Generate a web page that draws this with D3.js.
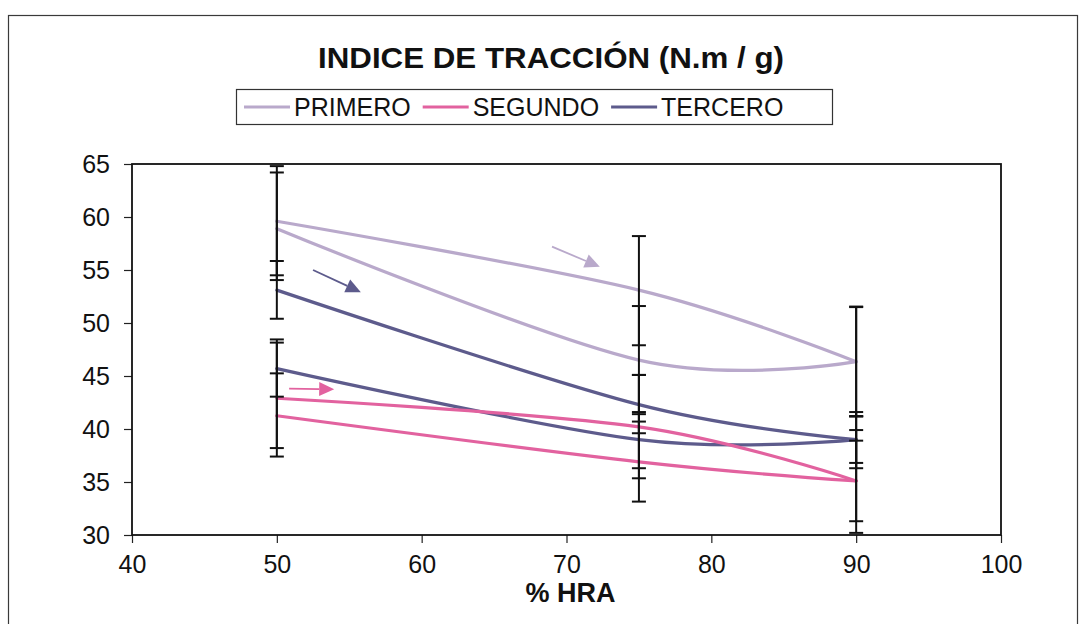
<!DOCTYPE html>
<html>
<head>
<meta charset="utf-8">
<script src="https://cdn.jsdelivr.net/npm/d3@7"></script>
<style>
  html, body { margin: 0; padding: 0; background: #fff; }
  svg { display: block; font-family: "Liberation Sans", Arial, sans-serif; }
</style>
</head>
<body>
<svg id="chart" width="1083" height="624"></svg>
<script>
// Humedad relativa ambiente (%) de cada medición
const hra = [50, 75, 90];

// Índice de tracción (N.m/g): rama superior e inferior de cada ciclo
const primeroSup = [59.6, 53.1, 46.35];
const primeroInf = [58.9, 46.5, 46.35];
const segundoSup = [42.9, 40.2, 35.1];
const segundoInf = [41.25, 36.9, 35.1];
const terceroSup = [53.1, 42.3, 39.0];
const terceroInf = [45.7, 39.0, 39.0];

// Barras de error: límite inferior y superior en cada HRA
const primeroSupLo = [54.5, 47.9, 41.2];
const primeroSupHi = [64.8, 58.2, 51.55];
const primeroInfLo = [54.05, 41.4, 41.2];
const primeroInfHi = [64.2, 51.6, 51.5];
const segundoSupLo = [38.2, 35.35, 30.2];
const segundoSupHi = [48.15, 45.1, 39.9];
const segundoInfLo = [37.4, 33.15, 31.3];
const segundoInfHi = [45.25, 40.7, 38.9];
const terceroSupLo = [50.4, 39.6, 36.3];
const terceroSupHi = [55.85, 45.1, 41.6];
const terceroInfLo = [43.05, 36.3, 36.8];
const terceroInfHi = [48.45, 41.6, 41.2];

// Ejes
const xTicks = [40, 50, 60, 70, 80, 90, 100];
const yTicks = [30, 35, 40, 45, 50, 55, 60, 65];

const seriesNames = ["PRIMERO", "SEGUNDO", "TERCERO"];
const seriesColors = ["#b9a9cb", "#e2629f", "#5d5b8c"];

// Flechas que indican el sentido de cada ciclo [x0, y0, x1, y1]
const arrowPrimero = [69.0, 57.2, 72.3, 55.3];
const arrowTercero = [52.5, 55.0, 55.8, 52.9];
const arrowSegundo = [50.85, 43.8, 53.96, 43.75];

const curves = [
  { color: 0, values: primeroSup, lo: primeroSupLo, hi: primeroSupHi },
  { color: 0, values: primeroInf, lo: primeroInfLo, hi: primeroInfHi },
  { color: 2, values: terceroSup, lo: terceroSupLo, hi: terceroSupHi },
  { color: 2, values: terceroInf, lo: terceroInfLo, hi: terceroInfHi },
  { color: 1, values: segundoSup, lo: segundoSupLo, hi: segundoSupHi },
  { color: 1, values: segundoInf, lo: segundoInfLo, hi: segundoInfHi }
];
const arrows = [
  { color: 0, a: arrowPrimero },
  { color: 2, a: arrowTercero },
  { color: 1, a: arrowSegundo }
];

const svg = d3.select("#chart");
const plot = { left: 132, right: 1001, top: 164, bottom: 535 };

const x = d3.scaleLinear().domain([40, 100]).range([plot.left, plot.right]);
const y = d3.scaleLinear().domain([30, 65]).range([plot.bottom, plot.top]);

// Marco exterior
svg.append("rect")
  .attr("x", 8.5).attr("y", 15.5)
  .attr("width", 1069).attr("height", 640)
  .attr("fill", "none").attr("stroke", "#3a3a3a").attr("stroke-width", 1.2);

// Título
svg.append("text")
  .attr("x", 551).attr("y", 68)
  .attr("text-anchor", "middle")
  .attr("font-size", 30).attr("font-weight", "bold")
  .attr("textLength", 466).attr("lengthAdjust", "spacingAndGlyphs")
  .attr("fill", "#111")
  .text("INDICE DE TRACCIÓN (N.m / g)");

// Leyenda
const legend = svg.append("g");
legend.append("rect")
  .attr("x", 236.5).attr("y", 89.5).attr("width", 596).attr("height", 35)
  .attr("fill", "#fff").attr("stroke", "#333").attr("stroke-width", 1.2);
let lx = 244;
seriesNames.forEach((name, i) => {
  legend.append("line")
    .attr("x1", lx).attr("x2", lx + 46)
    .attr("y1", 107).attr("y2", 107)
    .attr("stroke", seriesColors[i]).attr("stroke-width", 3);
  const t = legend.append("text")
    .attr("x", lx + 50).attr("y", 116)
    .attr("font-size", 25).attr("fill", "#111")
    .text(name);
  lx += 50 + t.node().getComputedTextLength() + 12;
});

// Ejes
const yAxis = d3.axisLeft(y).tickValues(yTicks).tickSize(8).tickSizeOuter(0).tickPadding(14);
const xAxis = d3.axisBottom(x).tickValues(xTicks).tickSize(8).tickSizeOuter(0).tickPadding(12);

const gy = svg.append("g").attr("transform", `translate(${plot.left},0)`).call(yAxis);
const gx = svg.append("g").attr("transform", `translate(0,${plot.bottom})`).call(xAxis);
[gx, gy].forEach(g => {
  g.select(".domain").remove();
  g.selectAll(".tick line").attr("stroke", "#222").attr("stroke-width", 1.2);
  g.selectAll(".tick text").attr("font-size", 25).attr("fill", "#111")
    .attr("font-family", "'Liberation Sans', Arial, sans-serif");
});

// Área de trazado
svg.append("rect")
  .attr("x", plot.left).attr("y", plot.top)
  .attr("width", plot.right - plot.left).attr("height", plot.bottom - plot.top)
  .attr("fill", "none").attr("stroke", "#111").attr("stroke-width", 1.8);

// Título del eje X
svg.append("text")
  .attr("x", x(70) + 4).attr("y", 602)
  .attr("text-anchor", "middle")
  .attr("font-size", 27).attr("font-weight", "bold").attr("fill", "#111")
  .text("% HRA");

// Curvas suavizadas
const line = d3.line()
  .x((d, i) => x(hra[i]))
  .y(d => y(d))
  .curve(d3.curveCardinal.tension(0));

svg.append("g").selectAll("path")
  .data(curves)
  .join("path")
  .attr("d", c => line(c.values))
  .attr("fill", "none")
  .attr("stroke", c => seriesColors[c.color])
  .attr("stroke-width", 3.2)
  .attr("stroke-linecap", "round");

// Barras de error
const eb = svg.append("g").attr("stroke", "#111").attr("stroke-width", 2);
curves.forEach(c => {
  hra.forEach((h, i) => {
    const xp = x(h);
    eb.append("line").attr("x1", xp).attr("x2", xp)
      .attr("y1", y(c.lo[i])).attr("y2", y(c.hi[i]));
    [c.lo[i], c.hi[i]].forEach(v => {
      eb.append("line").attr("x1", xp - 7).attr("x2", xp + 7)
        .attr("y1", y(v)).attr("y2", y(v));
    });
  });
});

// Flechas de sentido
const ag = svg.append("g");
arrows.forEach(({ color, a }) => {
  const x0 = x(a[0]), y0 = y(a[1]), x1 = x(a[2]), y1 = y(a[3]);
  const ang = Math.atan2(y1 - y0, x1 - x0);
  const len = 15, half = 7;
  const bx = x1 - len * Math.cos(ang), by = y1 - len * Math.sin(ang);
  ag.append("line")
    .attr("x1", x0).attr("y1", y0).attr("x2", bx).attr("y2", by)
    .attr("stroke", seriesColors[color]).attr("stroke-width", 1.8);
  const pts = [
    [x1, y1],
    [bx + half * Math.sin(ang), by - half * Math.cos(ang)],
    [bx - half * Math.sin(ang), by + half * Math.cos(ang)]
  ];
  ag.append("polygon")
    .attr("points", pts.map(p => p.join(",")).join(" "))
    .attr("fill", seriesColors[color]);
});
</script>
</body>
</html>
